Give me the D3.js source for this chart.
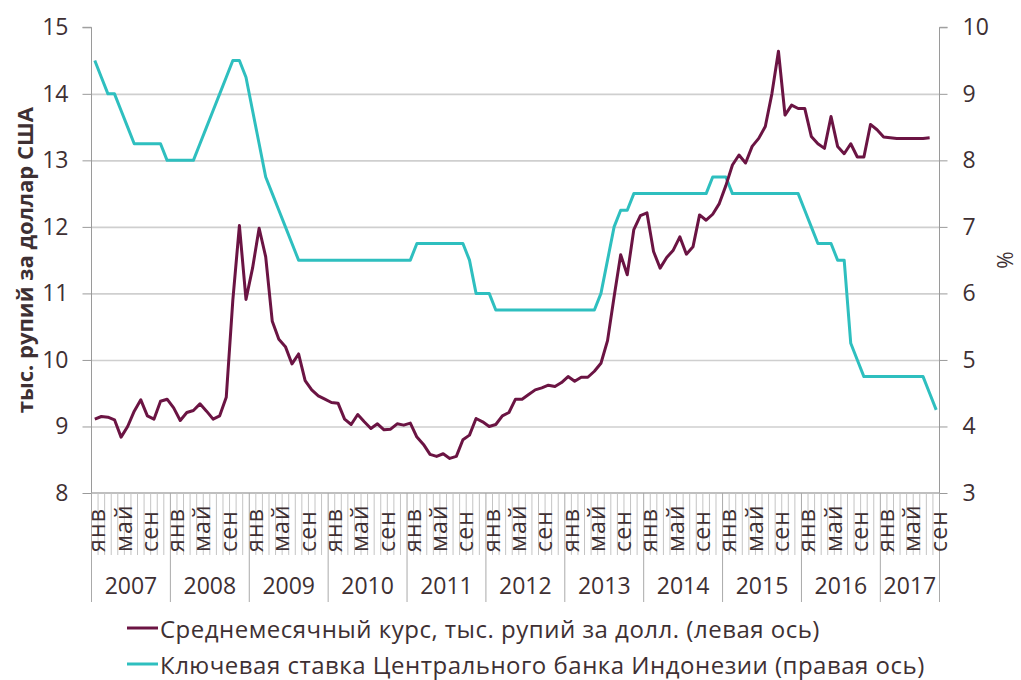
<!DOCTYPE html>
<html><head><meta charset="utf-8">
<script src="https://cdn.jsdelivr.net/npm/d3@7"></script>
<style>
html,body{margin:0;padding:0;background:#fff;}
text{font-family:"Open Sans",sans-serif;fill:#3e3033;}
</style></head>
<body><svg id="c" width="1021" height="680"></svg>
<script>
const years = [2007,2008,2009,2010,2011,2012,2013,2014,2015,2016,2017];
const monthNames = ["янв","фев","мар","апр","май","июн","июл","авг","сен","окт","ноя","дек"];
const labeledMonths = ["янв","май","сен"];
const monthsIn2017 = 9;
const leftTicks = [8,9,10,11,12,13,14,15];
const rightTicks = [3,4,5,6,7,8,9,10];
// Average monthly rate, thousand rupiah per USD (Jan 2007 – Aug 2017)
const fx = [
 9.11,9.15,9.14,9.10,8.84,9.00,9.23,9.40,9.16,9.11,9.38,9.41,
 9.28,9.09,9.21,9.24,9.34,9.23,9.11,9.16,9.44,10.90,12.02,10.91,
 11.38,11.98,11.55,10.58,10.31,10.20,9.94,10.09,9.69,9.55,9.46,9.41,
 9.36,9.35,9.11,9.03,9.18,9.07,8.97,9.04,8.95,8.96,9.04,9.02,
 9.05,8.84,8.73,8.58,8.55,8.59,8.52,8.55,8.80,8.87,9.12,9.07,
 9.00,9.03,9.16,9.21,9.41,9.41,9.48,9.55,9.58,9.62,9.60,9.66,
 9.75,9.68,9.74,9.74,9.83,9.95,10.29,10.95,11.58,11.28,11.96,12.17,
 12.21,11.63,11.38,11.54,11.65,11.85,11.59,11.70,12.18,12.10,12.19,12.35,
 12.62,12.93,13.08,12.96,13.21,13.33,13.51,14.00,14.64,13.68,13.83,13.78,
 13.78,13.36,13.25,13.18,13.66,13.21,13.10,13.25,13.05,13.05,13.54,13.46,
 13.35,13.34,13.33,13.33,13.33,13.33,13.33,13.34
];
// Bank Indonesia key rate, % (Jan 2007 – Sep 2017)
const rate = [
 9.5,9.25,9.0,9.0,8.75,8.5,8.25,8.25,8.25,8.25,8.25,8.0,
 8.0,8.0,8.0,8.0,8.25,8.5,8.75,9.0,9.25,9.5,9.5,9.25,
 8.75,8.25,7.75,7.5,7.25,7.0,6.75,6.5,6.5,6.5,6.5,6.5,
 6.5,6.5,6.5,6.5,6.5,6.5,6.5,6.5,6.5,6.5,6.5,6.5,
 6.5,6.75,6.75,6.75,6.75,6.75,6.75,6.75,6.75,6.5,6.0,6.0,
 6.0,5.75,5.75,5.75,5.75,5.75,5.75,5.75,5.75,5.75,5.75,5.75,
 5.75,5.75,5.75,5.75,5.75,6.0,6.5,7.0,7.25,7.25,7.5,7.5,
 7.5,7.5,7.5,7.5,7.5,7.5,7.5,7.5,7.5,7.5,7.75,7.75,
 7.75,7.5,7.5,7.5,7.5,7.5,7.5,7.5,7.5,7.5,7.5,7.5,
 7.25,7.0,6.75,6.75,6.75,6.5,6.5,5.25,5.0,4.75,4.75,4.75,
 4.75,4.75,4.75,4.75,4.75,4.75,4.75,4.5,4.25
];
const seriesNames = ["Среднемесячный курс, тыс. рупий за долл. (левая ось)",
                     "Ключевая ставка Центрального банка Индонезии (правая ось)"];
const leftTitle = "тыс. рупий за доллар США";
const rightTitle = "%";
const colors = ["#6b1443","#2ebfbf"];

const svg = d3.select("#c");
const L = 91.5, R = 939.5, T = 27.3, B = 493;
const nMonths = (years.length-1)*12 + monthsIn2017;
const idx = d3.range(nMonths);
const x = d3.scaleBand().domain(idx).range([L,R]).padding(0);
const cx = i => x(i) + x.bandwidth()/2;
const yL = d3.scaleLinear().domain([8,15]).range([B,T]);
const yR = d3.scaleLinear().domain([3,10]).range([B,T]);

// gridlines
svg.append("g").attr("transform",`translate(${L},0)`)
  .call(d3.axisLeft(yL).tickValues(leftTicks.filter(v=>v>8 && v<15)).tickSize(-(R-L)).tickFormat(""))
  .call(g=>g.select(".domain").remove())
  .call(g=>g.selectAll("line").attr("stroke","#cfcfcf").attr("stroke-width",1.6));

// left axis
const ga = svg.append("g").attr("transform",`translate(${L},0)`)
  .call(d3.axisLeft(yL).tickValues(leftTicks).tickSize(9).tickPadding(14).tickFormat(d3.format("d")));
ga.select(".domain").attr("stroke","#9a9a9a").attr("d",`M-9,${T}H0V${B}`);
ga.selectAll("line").attr("stroke","#9a9a9a");
ga.selectAll("text").style("font-size","23px").attr("fill","#3e3033");

// right axis
const gr = svg.append("g").attr("transform",`translate(${R},0)`)
  .call(d3.axisRight(yR).tickValues(rightTicks).tickSize(8).tickPadding(15).tickFormat(d3.format("d")));
gr.select(".domain").attr("stroke","#9a9a9a").attr("d",`M8,${T}H0V${B}`);
gr.selectAll("line").attr("stroke","#9a9a9a");
gr.selectAll("text").style("font-size","23px").attr("fill","#3e3033");

// x axis
const gx = svg.append("g");
gx.append("line").attr("x1",L).attr("x2",R).attr("y1",B).attr("y2",B).attr("stroke","#aaaaaa").attr("stroke-width",1.5);
d3.range(1,nMonths).filter(i=>i%12!==0).forEach(i=>{
  gx.append("line").attr("x1",x(i)).attr("x2",x(i)).attr("y1",B).attr("y2",555).attr("stroke","#c4c4c4").attr("stroke-width",1);
});
const yearEdges = years.map((y,k)=>x(k*12)).concat([R]);
yearEdges.forEach(px=>{
  gx.append("line").attr("x1",px).attr("x2",px).attr("y1",B).attr("y2",602).attr("stroke","#aaaaaa").attr("stroke-width",1);
});
idx.filter(i=>labeledMonths.includes(monthNames[i%12])).forEach(i=>{
  gx.append("text").attr("transform",`translate(${cx(i)+1.5},552) rotate(-90)`)
    .attr("dominant-baseline","central").attr("text-anchor","start")
    .style("font-size","23px").style("letter-spacing","1.2px").text(monthNames[i%12]);
});
years.forEach((yr,k)=>{
  const a = yearEdges[k], b = yearEdges[k+1];
  gx.append("text").attr("x",(a+b)/2).attr("y",594).attr("text-anchor","middle")
    .style("font-size","23px").text(yr);
});

// lines
const lineL = d3.line().x((d,i)=>cx(i)).y(d=>yL(d));
const lineR = d3.line().x((d,i)=>cx(i)).y(d=>yR(d));
svg.append("path").attr("d",lineR(rate)).attr("fill","none").attr("stroke",colors[1]).attr("stroke-width",3).attr("stroke-linejoin","round");
svg.append("path").attr("d",lineL(fx)).attr("fill","none").attr("stroke",colors[0]).attr("stroke-width",3).attr("stroke-linejoin","round");

// axis titles
svg.append("text").attr("transform",`translate(24,${(T+B)/2}) rotate(-90)`)
  .attr("text-anchor","middle").attr("dominant-baseline","central")
  .style("font-size","22px").style("font-weight","bold").text(leftTitle);
svg.append("text").attr("transform",`translate(1005,${(T+B)/2}) rotate(-90)`)
  .attr("text-anchor","middle").attr("dominant-baseline","central")
  .style("font-size","21px").text(rightTitle);

// legend
const legY = [628,664];
seriesNames.forEach((nm,k)=>{
  svg.append("line").attr("x1",127).attr("x2",158).attr("y1",legY[k]).attr("y2",legY[k])
    .attr("stroke",colors[k]).attr("stroke-width",3);
  svg.append("text").attr("x",160).attr("y",legY[k]).attr("dominant-baseline","central")
    .style("font-size","24px").style("letter-spacing","0.5px").text(nm);
});
</script></body></html>
